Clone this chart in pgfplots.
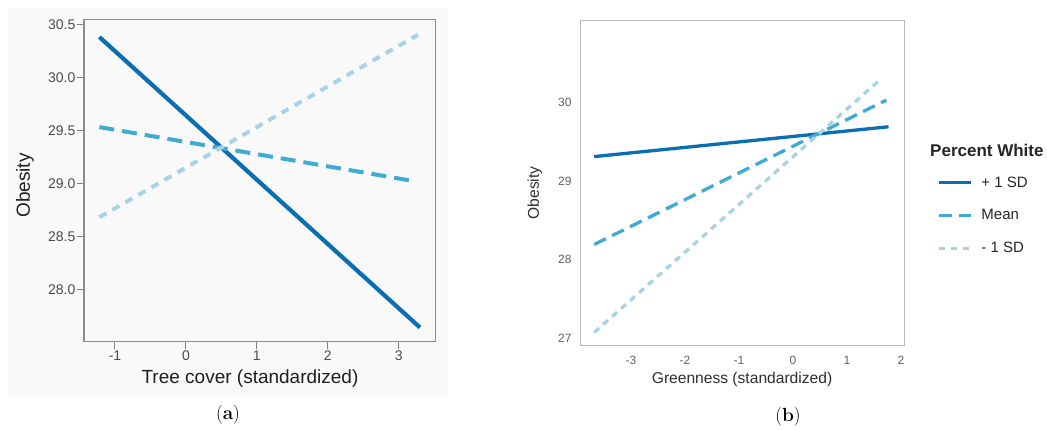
\documentclass[border=0pt]{standalone}
\usepackage{pgfplots}
\pgfplotsset{compat=1.18}
\usepackage{fontspec}
\setmainfont{Liberation Sans}
\newfontfamily\capfont{Latin Modern Roman}
\definecolor{cA}{HTML}{0A6FB2}
\definecolor{cB}{HTML}{3FAAD2}
\definecolor{cC}{HTML}{A8D3E7}
\definecolor{bgA}{HTML}{F9F9F9}
\begin{document}
\begin{tikzpicture}[x=1pt,y=1pt]
\path[use as bounding box, fill=white] (0,0) rectangle (1047,429);
\fill[bgA] (8,429-397) rectangle (448,429-8);
% ---------- panel (a)
\begin{axis}[
  at={(84pt,87.3pt)}, anchor=south west, scale only axis,
  width=351.7pt, height=322.4pt,
  xmin=-1.437, xmax=3.522, ymin=27.506, ymax=30.547,
  axis line style={draw=black!45, line width=1.2pt},
  xtick={-1,0,1,2,3}, ytick={28,28.5,29,29.5,30,30.5},
  yticklabel style={/pgf/number format/fixed, /pgf/number format/precision=1, /pgf/number format/fixed zerofill},
  /pgf/number format/assume math mode=true,
  tick align=outside, major tick length=7pt,
  tick style={draw=black!50, line width=1pt},
  xtick pos=bottom, ytick pos=left,
  tick label style={font=\fontsize{14}{16}\selectfont, text=black!70},
  yticklabel style={inner sep=1.5pt},
  xticklabel style={inner sep=2pt},
  xlabel={Tree cover (standardized)}, ylabel={Obesity},
  xlabel style={font=\fontsize{19}{22}\selectfont, text=black!88, at={(axis description cs:0.472,-0.1157)}, anchor=center},
  ylabel style={font=\fontsize{19}{22}\selectfont, text=black!88, at={(axis description cs:-0.168,0.4845)}, anchor=center},
  clip=false,
]
\addplot[cA, line width=4.2pt] coordinates {(-1.22,30.38) (3.30,27.64)};
\addplot[cB, line width=4pt, dash pattern=on 15pt off 8pt] coordinates {(-1.22,29.53) (3.22,29.02)};
\addplot[cC, line width=4pt, dash pattern=on 8pt off 7pt] coordinates {(-1.22,28.68) (3.27,30.40)};
\end{axis}
% ---------- panel (b)
\begin{axis}[
  at={(580.7pt,84pt)}, anchor=south west, scale only axis,
  width=324pt, height=325pt,
  xmin=-3.93, xmax=2.07, ymin=26.91, ymax=31.05,
  axis line style={draw=black!28, line width=1pt},
  xtick={-3,-2,-1,0,1,2}, ytick={27,28,29,30},
  /pgf/number format/assume math mode=true,
  major tick length=0pt, tick style={draw=none},
  xtick pos=bottom, ytick pos=left,
  tick label style={font=\fontsize{12}{14}\selectfont, text=black!62},
  yticklabel style={inner sep=0pt, xshift=-9pt},
  xticklabel style={inner sep=0pt, yshift=-11pt},
  xlabel={Greenness (standardized)}, ylabel={Obesity},
  xlabel style={font=\fontsize{15.6}{18}\selectfont, text=black!82, at={(axis description cs:0.498,-0.1046)}, anchor=center},
  ylabel style={font=\fontsize{15.6}{18}\selectfont, text=black!82, at={(axis description cs:-0.1417,0.468)}, anchor=center},
  clip=false,
  legend style={at={(axis description cs:1.0904,0.525)}, anchor=north west, draw=none, fill=none,
    font=\fontsize{15}{17}\selectfont, text=black!85, row sep=21pt,
    nodes={inner sep=0pt}},
  legend cell align=left,
  legend image code/.code={\draw[#1] (0pt,0pt) -- (32pt,0pt);},
]
\addplot[cA, line width=3.3pt] coordinates {(-3.68,29.31) (1.77,29.69)};
\addlegendentry{\hspace{9pt}+ 1 SD}
\addplot[cB, line width=3.3pt, dash pattern=on 13pt off 7pt] coordinates {(-3.68,28.19) (1.73,30.03)};
\addlegendentry{\hspace{9pt}Mean}
\addplot[cC, line width=3.3pt, dash pattern=on 6.5pt off 5.5pt] coordinates {(-3.68,27.07) (1.60,30.28)};
\addlegendentry{\hspace{9pt}- 1 SD}
\end{axis}
\node[anchor=west, inner sep=0pt, font=\fontsize{17}{20}\selectfont\bfseries, text=black!85] at (930,429-150.7) {Percent White};
\node[font=\capfont\fontsize{19}{22}\selectfont, inner sep=0pt] at (228,429-415) {(\textbf{a})};
\node[font=\capfont\fontsize{19}{22}\selectfont, inner sep=0pt] at (788,429-416.7) {(\textbf{b})};
\end{tikzpicture}
\end{document}
